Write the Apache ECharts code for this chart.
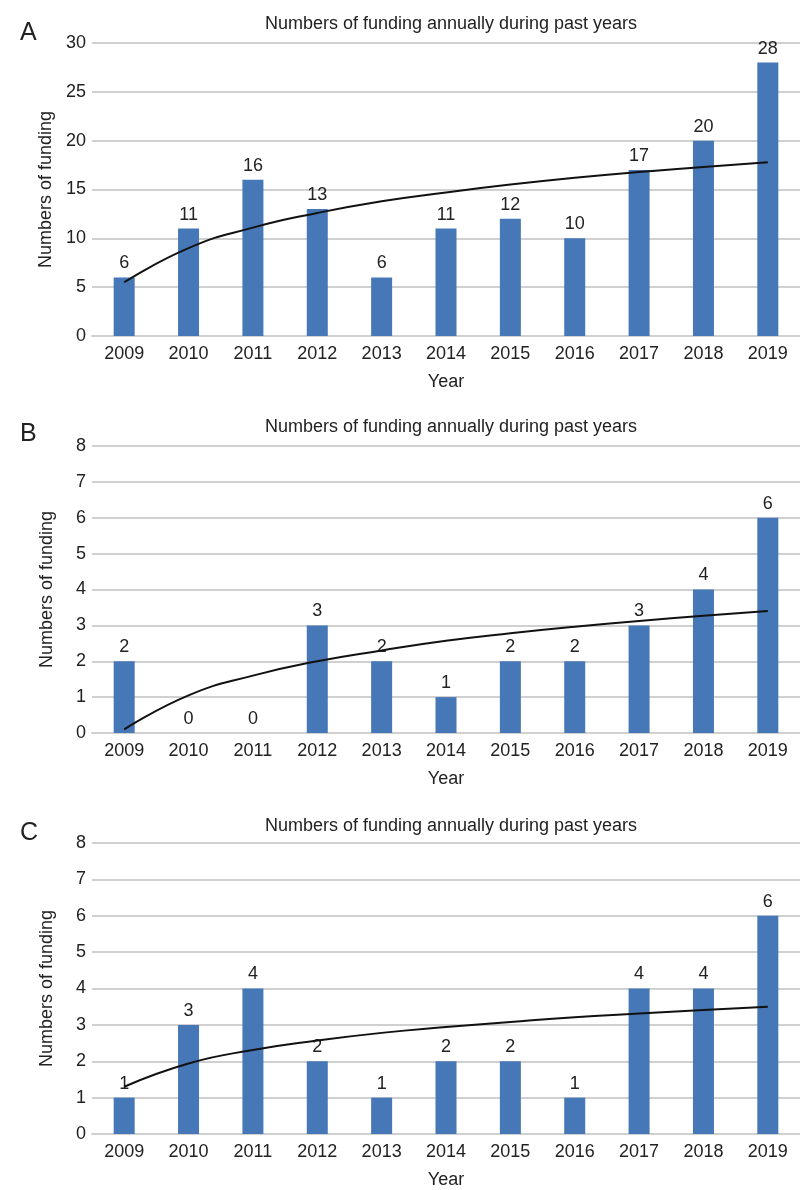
<!DOCTYPE html>
<html><head><meta charset="utf-8">
<script src="https://cdn.jsdelivr.net/npm/echarts@6/dist/echarts.min.js"></script>
<style>html,body{margin:0;padding:0;background:#fff}#c{width:800px;height:1190px}</style>
</head><body><div id="c"></div>
<script>
const years = ['2009','2010','2011','2012','2013','2014','2015','2016','2017','2018','2019'];
const fundingA = [6,11,16,13,6,11,12,10,17,20,28];
const fundingB = [2,0,0,3,2,1,2,2,3,4,6];
const fundingC = [1,3,4,2,1,2,2,1,4,4,6];
// trend line values at each year
const trendA = [5.5,9.0,11.1,12.6,13.8,14.7,15.5,16.2,16.8,17.3,17.8];
const trendB = [0.1,1.05,1.6,2.0,2.3,2.57,2.78,2.96,3.12,3.27,3.4];
const trendC = [1.3,1.94,2.31,2.57,2.78,2.94,3.08,3.21,3.31,3.41,3.5];
const panelLetters = ['A','B','C'];
const titleText = 'Numbers of funding annually during past years';
const yMax = [30,8,8];
const yInterval = [5,1,1];

const FONT = 'Liberation Sans, Arial, sans-serif';
const FS = 18;
const grids = [
  {left:92, right:0, top:43, height:293},
  {left:92, right:0, top:446, height:287},
  {left:92, right:0, top:843, height:293}
];
const barData = [fundingA, fundingB, fundingC];
const trendData = [trendA, trendB, trendC];

const chart = echarts.init(document.getElementById('c'));
const option = {
  animation:false,
  backgroundColor:'#fff',
  textStyle:{fontFamily:FONT},
  title: grids.map((g,i)=>({
    text:titleText, left:446, textAlign:'center', top:[10,413,812][i],
    textStyle:{fontSize:FS, fontWeight:'normal', color:'#222', fontFamily:FONT}
  })).concat(panelLetters.map((l,i)=>({
    text:l, left:15, top:[16,417,816][i],
    textStyle:{fontSize:25, fontWeight:'normal', color:'#222', fontFamily:FONT}
  }))),
  grid: grids,
  xAxis: grids.map((g,i)=>({
    type:'category', gridIndex:i, data:years,
    name:'Year', nameLocation:'middle', nameGap:37,
    nameTextStyle:{fontSize:FS, color:'#222', fontFamily:FONT},
    axisLine:{show:true, lineStyle:{color:'#d0d0d0', width:2}},
    axisTick:{show:false},
    axisLabel:{fontSize:FS, color:'#222', margin:9, fontFamily:FONT}
  })),
  yAxis: grids.map((g,i)=>({
    type:'value', gridIndex:i, min:0, max:yMax[i], interval:yInterval[i],
    name:'Numbers of funding', nameLocation:'middle', nameGap:36, nameRotate:90,
    nameTextStyle:{fontSize:FS, color:'#222', fontFamily:FONT},
    axisLine:{show:false}, axisTick:{show:false},
    axisLabel:{fontSize:FS, color:'#222', margin:6, fontFamily:FONT},
    splitLine:{show:true, lineStyle:{color:'#d0d0d0', width:2}}
  })),
  series: [0,1,2].flatMap(i=>[
    {type:'bar', xAxisIndex:i, yAxisIndex:i, data:barData[i], barWidth:21,
     itemStyle:{color:'#4677b6'},
     label:{show:true, position:'top', fontSize:FS, color:'#222', distance:5, fontFamily:FONT}},
    {type:'line', xAxisIndex:i, yAxisIndex:i, data:trendData[i], smooth:0.5,
     symbol:'none', lineStyle:{color:'#111', width:2}, z:5}
  ])
};
chart.setOption(option);
</script></body></html>
